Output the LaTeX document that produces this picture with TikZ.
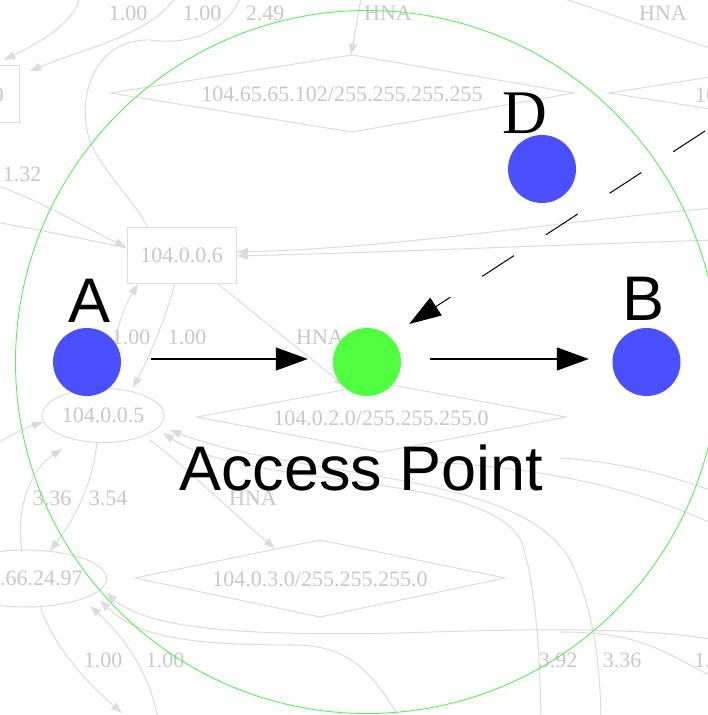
\documentclass[tikz,border=0pt]{standalone}
\usepackage{fontspec}
\setmainfont{Liberation Serif}
\newfontfamily\labelsans{Liberation Sans}
\usetikzlibrary{arrows.meta,shapes.geometric}
\definecolor{hostblue}{RGB}{75,80,255}
\definecolor{apgreen}{RGB}{80,255,64}
\definecolor{rangegreen}{RGB}{90,240,90}
\definecolor{fadeline}{RGB}{220,220,220}
\definecolor{fadetext}{RGB}{200,200,200}
\tikzset{
  bgedge/.style={draw=fadeline, line width=1pt},
  bgarr/.style={bgedge, -{Triangle[length=11pt,width=8pt]}},
  bgtext/.style={text=fadetext, font=\fontsize{22}{22}\selectfont, inner sep=0pt},
  bgbox/.style={bgtext, draw=fadeline, line width=1pt, rectangle},
  bgell/.style={bgtext, draw=fadeline, line width=1pt, ellipse},
  host/.style={circle, fill=hostblue, minimum size=68pt, inner sep=0pt},
  accesspt/.style={circle, fill=apgreen, minimum size=68pt, inner sep=0pt},
  sanslabel/.style={font=\labelsans\fontsize{63}{63}\selectfont, inner sep=0pt, anchor=base},
  seriflabel/.style={font=\fontsize{62}{62}\selectfont, inner sep=0pt, anchor=base},
  flow/.style={line width=1.2pt, -{Triangle[length=32pt,width=23pt]}},
}
\begin{document}
\begin{tikzpicture}[x=1pt,y=-1pt]
\clip (0,0) rectangle (708,715);
\fill[white] (0,0) rectangle (708,715);

% ---------- faded routing graph in the background ----------
\node[bgbox, minimum width=79pt, minimum height=57pt] (h9) at (-20.5,93.5) {};
\node[bgtext, anchor=east] (h9txt) at (4,95) {9};
\node[bgbox, minimum width=109pt, minimum height=56pt] (h6) at (181.5,255) {104.0.0.6};
\node[bgell, minimum width=122pt, minimum height=54pt] (h5) at (103,415.5) {104.0.0.5};
\node[bgell, minimum width=160pt, minimum height=57pt] (h97) at (25,578.5) {104.66.24.97};

% network (HNA) diamonds
\draw[bgedge] (110,93) -- (352,55) -- (574,93) -- (352,132) -- cycle;
\node[bgtext] (net65) at (342,94) {104.65.65.102/255.255.255.255};
\draw[bgedge] (609,93) -- (850,55) -- (1090,93) -- (850,131) -- cycle;
\node[bgtext, anchor=west] (netR) at (695,95) {10};
\draw[bgedge] (197,417) -- (381,383) -- (566,417) -- (381,452) -- cycle;
\node[bgtext] (net2) at (381,418) {104.0.2.0/255.255.255.0};
\draw[bgedge] (135,578) -- (320,540) -- (505,578) -- (320,617) -- cycle;
\node[bgtext] (net3) at (320,579) {104.0.3.0/255.255.255.0};

% edges near the top
\draw[bgarr] (80,-2) .. controls (72,25) and (40,42) .. (4,60);
\draw[bgarr] (175,-2) .. controls (150,35) and (80,50) .. (30,71);
\draw[bgedge] (240,-2) .. controls (225,35) and (185,45) .. (150,40)
  .. controls (85,38) and (70,120) .. (100,160) .. controls (120,190) and (140,210) .. (147,227);
\draw[bgarr] (361,-2) -- (351,55);
\draw[bgedge] (562,-2) -- (715,50);

% edges into 104.0.0.6
\draw[bgarr] (-5,185) .. controls (40,200) and (90,230) .. (126,247);
\draw[bgedge] (-5,222) .. controls (40,230) and (90,240) .. (126,248);
\draw[bgarr] (715,208) .. controls (550,222) and (400,248) .. (237,252);
\draw[bgarr] (715,240) .. controls (550,245) and (400,252) .. (237,256);

% edges between 104.0.0.6 and 104.0.0.5
\draw[bgarr] (175,283) .. controls (165,320) and (150,355) .. (133,388);
\draw[bgarr] (108,389) .. controls (112,340) and (122,310) .. (138,284);
\draw[bgarr] (218,284) .. controls (260,318) and (300,350) .. (345,386);

% edges around 104.0.0.5
\draw[bgarr] (-5,445) .. controls (10,435) and (25,428) .. (43,422);
\draw[bgarr] (22,552) .. controls (15,510) and (30,470) .. (62,449);
\draw[bgarr] (97,442) .. controls (92,490) and (70,525) .. (50,551);
\draw[bgarr] (150,440) .. controls (190,470) and (240,520) .. (275,548);
\draw[bgarr] (541,720) .. controls (540,650) and (535,580) .. (521,540)
  .. controls (480,470) and (250,490) .. (163,433);
\draw[bgarr] (601,720) .. controls (600,650) and (590,600) .. (570,560)
  .. controls (520,470) and (300,480) .. (170,430);
\draw[bgedge] (430,462) .. controls (550,468) and (640,490) .. (715,525);
\draw[bgedge] (560,458) .. controls (620,462) and (670,475) .. (715,492);

% edges around 104.66.24.97
\draw[bgarr] (715,640) .. controls (650,628) and (550,628) .. (400,633)
  .. controls (250,636) and (150,630) .. (106,593);
\draw[bgarr] (400,718) .. controls (370,670) and (350,648) .. (300,645)
  .. controls (200,645) and (140,640) .. (100,600);
\draw[bgedge] (560,632) .. controls (640,632) and (660,650) .. (715,678);
\draw[bgarr] (40,606) .. controls (55,650) and (90,685) .. (122,713);
\draw[bgarr] (158,720) .. controls (152,680) and (128,640) .. (90,606);

% edge labels
\node[bgtext] (w1) at (128,13) {1.00};
\node[bgtext] (w2) at (202,13) {1.00};
\node[bgtext] (w3) at (265,13) {2.49};
\node[bgtext] (w4) at (388,13) {HNA};
\node[bgtext] (w5) at (663,13) {HNA};
\node[bgtext] (w6) at (22,174) {1.32};
\node[bgtext] (w7) at (131,337) {1.00};
\node[bgtext] (w8) at (187,337) {1.00};
\node[bgtext] (w9) at (320,337) {HNA};
\node[bgtext] (w10) at (52,498) {3.36};
\node[bgtext] (w11) at (108,498) {3.54};
\node[bgtext] (w12) at (253,498) {HNA};
\node[bgtext] (w13) at (103,660) {1.00};
\node[bgtext] (w14) at (165,660) {1.00};
\node[bgtext] (w15) at (558,660) {3.92};
\node[bgtext] (w16) at (622,660) {3.36};
\node[bgtext, anchor=west] (w17) at (694,660) {1.00};

% ---------- radio range and traffic ----------
\node[circle, draw=rangegreen, line width=0.9pt, minimum size=703pt, inner sep=0pt] (range) at (367,362) {};

\node[host] (A) at (87,362) {};
\node[accesspt] (AP) at (367,362) {};
\node[host] (B) at (646.5,362) {};
\node[host] (D) at (542,169) {};

\node[sanslabel] (Alabel) at (90,322) {A};
\node[sanslabel] (Blabel) at (643.5,320) {B};
\node[seriflabel] (Dlabel) at (524.5,133) {D};
\node[sanslabel] (APlabel) at (361.5,490) {Access Point};

\draw[flow, shorten <=30pt, shorten >=25pt] ([yshift=3pt]A.east) -- ([yshift=3pt]AP.west);
\draw[flow, shorten <=29pt, shorten >=23.5pt] ([yshift=3pt]AP.east) -- ([yshift=3pt]B.west);
\coordinate (Dfrom) at (705,131);
\draw[line width=1pt, dash pattern=on 38pt off 38pt, -{Triangle[length=32pt,width=21pt]}, shorten >=23pt]
  (Dfrom) -- (AP.48);
\end{tikzpicture}
\end{document}
